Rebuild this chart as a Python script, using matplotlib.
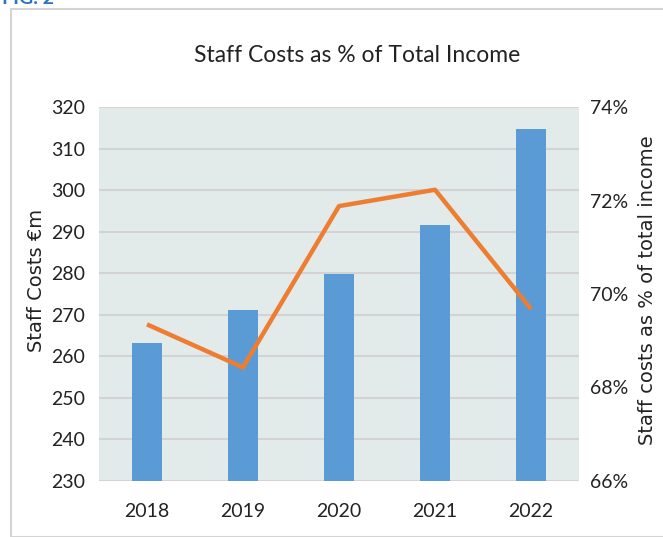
import matplotlib
matplotlib.use("Agg")
from matplotlib import pyplot as plt
from matplotlib.patches import Rectangle
from matplotlib.ticker import FuncFormatter

years = ["2018", "2019", "2020", "2021", "2022"]
staff_costs = [263.1, 271.2, 279.8, 291.6, 314.6]
pct_income = [69.35, 68.43, 71.88, 72.23, 69.68]

NARROW = ["Lato", "DejaVu Sans"]
WIDE = ["DejaVu Sans"]


def main():
    fig = plt.figure(figsize=(6.63, 5.37), dpi=100)
    W, H = 663, 537

    # light frame around the chart
    fig.patches.append(Rectangle((11 / W, 0), 1.0, 1 - 9 / H, transform=fig.transFigure,
                                 fill=False, edgecolor="#d4d4d4", linewidth=1.5))
    fig.text(2 / W, 1 - 4 / H, "FIG. 2", color="#2a75bb", fontsize=14,
             fontweight="bold", va="baseline", ha="left", family=NARROW)

    ax = fig.add_axes([99 / W, 1 - 481 / H, 480 / W, 374 / H])
    ax.set_facecolor("#e2eaea")
    x = range(len(years))
    ax.bar(x, staff_costs, width=0.31, color="#5b9bd5", zorder=2)
    ax.set_ylim(230, 320)
    ax.set_xlim(-0.5, 4.5)
    ax.set_yticks(range(230, 321, 10))
    ax.yaxis.grid(True, color="#d3d3d6", linewidth=1.5, zorder=0)
    ax.set_axisbelow(True)
    ax.set_xticks(list(x))
    ax.set_xticklabels(years)
    for s in ax.spines.values():
        s.set_visible(False)
    ax.tick_params(length=0, labelsize=14)
    ax.tick_params(axis="x", pad=16)
    ax.tick_params(axis="y", pad=10)
    for lab in ax.get_xticklabels() + ax.get_yticklabels():
        lab.set_family(NARROW)
        lab.set_color("#222222")
    ax.set_ylabel("Staff Costs €m", fontsize=14, color="#222222", family=WIDE)
    ax.yaxis.set_label_coords((46 - 99) / 480, (481 - 280) / 374)

    ax2 = ax.twinx()
    ax2.plot(list(x), pct_income, color="#ed7d31", linewidth=3.2,
             solid_capstyle="butt", zorder=3)
    ax2.set_ylim(66, 74)
    ax2.set_yticks([66, 68, 70, 72, 74])
    ax2.yaxis.set_major_formatter(FuncFormatter(lambda v, p: f"{v:.0f}%"))
    for s in ax2.spines.values():
        s.set_visible(False)
    ax2.tick_params(length=0, labelsize=14, pad=8)
    for lab in ax2.get_yticklabels():
        lab.set_family(NARROW)
        lab.set_color("#222222")
    ax2.set_ylabel("Staff costs as % of total income", fontsize=14, color="#222222",
                   family=WIDE)
    ax2.yaxis.set_label_coords((638 - 99) / 480, (481 - 290) / 374)

    fig.text(357 / W, 1 - 56 / H, "Staff Costs as % of Total Income", ha="center",
             va="center", fontsize=16.5, family=NARROW, color="#222222")

    fig.savefig("out.png", dpi=100)


if __name__ == '__main__':
    main()
